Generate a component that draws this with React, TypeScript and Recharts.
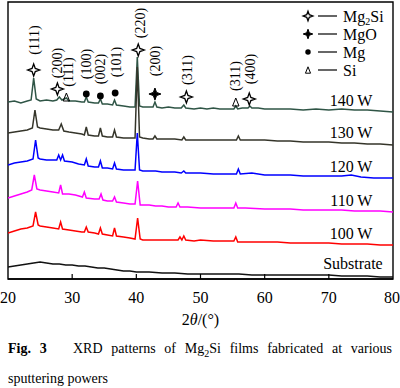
import { LineChart, Line, XAxis, YAxis, ReferenceArea, ReferenceDot } from 'recharts';

type Pair = [number, number];

// 2θ (deg) vs offset intensity (a.u.)
const w140: Pair[] = [
  [20, 177], [21, 178], [22, 176], [23, 178], [23.6, 179], [24.0, 201], [24.4, 180], [25, 178],
  [26, 179], [27, 178], [27.6, 179], [28.0, 182], [28.4, 179], [29.1, 181], [29.5, 178], [30.5, 178],
  [31.5, 177], [31.9, 177], [32.2, 182], [32.5, 177], [33.5, 176], [34.1, 176], [34.4, 180], [34.7, 175],
  [35.5, 175], [36.3, 174], [36.6, 179], [36.9, 174], [38, 173], [39, 172], [39.8, 172], [40.15, 222],
  [40.5, 173], [41, 172], [42, 172], [42.6, 172], [42.9, 177], [43.2, 172], [44, 171], [45, 172],
  [46, 171], [47, 171], [47.4, 174], [47.7, 171], [49, 170], [50, 171], [51, 170], [52, 171],
  [53, 170], [54, 170], [55.2, 170], [55.5, 173], [55.8, 170], [56.5, 171], [57.4, 171], [57.7, 173],
  [58.0, 171], [59, 171], [60, 170], [62, 170], [64, 170], [66, 169], [68, 170], [70, 169],
  [72, 170], [74, 169], [76, 169], [78, 168], [80, 167],
];

const w130: Pair[] = [
  [20, 146], [21, 147], [22, 148], [23, 149], [23.8, 151], [24.2, 169], [24.6, 152], [25, 151],
  [26, 150], [27, 149], [27.9, 149], [28.3, 155], [28.7, 148], [29.5, 147], [30.5, 146], [31.5, 145],
  [31.9, 144], [32.2, 152], [32.5, 144], [33.5, 143], [34.1, 143], [34.4, 151], [34.7, 143], [35.5, 142],
  [36.3, 142], [36.6, 149], [36.9, 142], [38, 141], [39, 141], [39.8, 141], [40.15, 212], [40.5, 142],
  [41, 141], [42, 140], [42.6, 140], [42.9, 143], [43.2, 140], [44, 140], [45, 140], [46, 140],
  [47.1, 139], [47.4, 142], [47.7, 139], [49, 139], [50, 139], [52, 139], [54, 139], [55.6, 139],
  [55.9, 143], [56.2, 139], [58, 139], [60, 139], [62, 138], [64, 138], [66, 137], [68, 137],
  [70, 137], [72, 136], [74, 136], [76, 135], [78, 135], [80, 134],
];

const w120: Pair[] = [
  [20, 114], [21, 116], [22, 117], [23, 118], [23.9, 120], [24.3, 139], [24.7, 121], [25, 120],
  [26, 119], [27, 119], [27.6, 119], [27.9, 124], [28.2, 119], [28.5, 124], [28.8, 118], [30, 117],
  [31, 115], [31.9, 114], [32.2, 120], [32.5, 113], [33.5, 112], [34.1, 112], [34.4, 118], [34.7, 111],
  [35.5, 111], [36.3, 110], [36.6, 116], [36.9, 110], [38, 109], [39, 109], [39.8, 109], [40.15, 146],
  [40.5, 109], [41, 108], [42, 108], [43, 108], [44, 107], [45, 107], [46, 107], [47, 106],
  [47.4, 108], [47.7, 106], [49, 106], [50, 106], [52, 105], [54, 105], [55.6, 105], [55.9, 110],
  [56.2, 105], [58, 106], [60, 104], [62, 104], [64, 104], [66, 103], [68, 103], [70, 103],
  [72, 103], [73.5, 104], [75, 102], [77, 101], [80, 101],
];

const w110: Pair[] = [
  [20, 81], [21, 83], [22, 85], [23, 87], [23.7, 89], [24.1, 104], [24.5, 90], [25, 89],
  [26, 88], [27, 87], [27.9, 86], [28.2, 94], [28.5, 85], [29.5, 85], [30.5, 84], [31.6, 82],
  [31.9, 87], [32.2, 81], [33.5, 80], [34.2, 80], [34.5, 85], [34.8, 79], [35.5, 78], [36.3, 78],
  [36.6, 82], [36.9, 77], [38, 76], [39, 75], [39.8, 75], [40.2, 98], [40.6, 74], [41, 74],
  [42, 74], [43, 73], [44, 73], [45, 72], [46.2, 72], [46.5, 76], [46.8, 72], [48, 72],
  [50, 71], [52, 71], [54, 71], [55.2, 71], [55.5, 76], [55.8, 71], [57, 71], [60, 70],
  [62, 70], [64, 70], [66, 69], [68, 69], [70, 69], [72, 69], [74, 68], [76, 68],
  [78, 68], [80, 67],
];

const w100: Pair[] = [
  [20, 46], [21, 48], [22, 50], [23, 51], [23.9, 53], [24.3, 67], [24.7, 54], [25, 53],
  [26, 52], [27, 51], [27.9, 50], [28.2, 57], [28.5, 50], [29.5, 49], [30.5, 48], [31.5, 47],
  [31.9, 47], [32.2, 52], [32.5, 47], [33.5, 46], [34.1, 45], [34.4, 51], [34.7, 45], [35.5, 44],
  [36.3, 43], [36.6, 51], [36.9, 43], [38, 42], [39, 41], [39.8, 40], [40.2, 61], [40.6, 40],
  [41, 39], [42, 39], [43, 39], [44, 39], [45, 39], [46.5, 39], [46.8, 42], [47.1, 39],
  [47.4, 43], [47.7, 39], [49, 38], [50, 39], [52, 38], [54, 38], [55.2, 38], [55.5, 42],
  [55.8, 37], [57, 37], [60, 37], [62, 37], [64, 36], [66, 36], [68, 36], [70, 36],
  [72, 35], [74, 35], [76, 35], [78, 34], [80, 34],
];

const substrate: Pair[] = [
  [20, 12], [21, 13], [22, 14], [23, 15], [24, 16], [25, 17], [26, 16], [27, 15],
  [28, 15], [29, 14], [30, 14], [31, 13], [32, 13], [33, 12], [34, 11], [35, 11],
  [36, 10], [37, 9], [38, 8], [39, 8], [40, 7], [42, 7], [44, 6], [46, 6],
  [48, 5], [50, 5], [52, 5], [54, 5], [56, 5], [58, 4], [60, 4], [62, 4],
  [64, 4], [66, 4], [68, 4], [70, 4], [72, 3], [74, 3], [76, 3], [78, 2], [80, 2],
];

const xTicks = [20, 30, 40, 50, 60, 70, 80];

const seriesNames = ['140 W', '130 W', '120 W', '110 W', '100 W', 'Substrate'];
const seriesData = [w140, w130, w120, w110, w100, substrate];
const seriesColors = ['#2f5546', '#35352a', '#0000ff', '#ff00ff', '#ff0000', '#111111'];
// where each power label sits (right end), in data units
const seriesLabelX = [76.8, 76.8, 76.8, 76.8, 76.8, 78.4];
const seriesLabelY = [179, 147, 113, 79, 46, 16];

// peak markers: phase symbol position and (hkl) label position
const peakX = [24.0, 27.7, 29.1, 32.2, 34.4, 36.7, 40.3, 42.9, 47.8, 55.5, 57.6];
const peakY = [209, 190, 182, 185, 183, 186, 229, 185, 182, 177, 180];
const peakPhase = ['Mg2Si', 'Mg2Si', 'Si', 'Mg', 'Mg', 'Mg', 'Mg2Si', 'MgO', 'Mg2Si', 'Si', 'Mg2Si'];
const peakHkl = ['(111)', '(200)', '(111)', '(100)', '(002)', '(101)', '(220)', '(200)', '(311)', '(311)', '(400)'];
const hklX = [24.0, 27.7, 29.4, 32.2, 34.4, 36.9, 40.6, 42.9, 47.9, 55.4, 57.7];
const hklY = [239, 216, 207, 215, 210, 217, 256, 218, 209, 203, 210];

const phases = ['Mg2Si', 'MgO', 'Mg', 'Si'];

const FONT = "'Liberation Serif', 'Times New Roman', serif";

function Symbol({ phase, cx, cy, s = 1 }: { phase: string; cx: number; cy: number; s?: number }) {
  if (phase === 'Mg2Si' || phase === 'MgO') {
    const r = 6 * s;
    const k = 1.6 * s;
    const d = `M${cx},${cy - r} L${cx + k},${cy - k} L${cx + r},${cy} L${cx + k},${cy + k} L${cx},${cy + r} L${cx - k},${cy + k} L${cx - r},${cy} L${cx - k},${cy - k} Z`;
    return phase === 'MgO'
      ? <path d={d} fill="#000" stroke="#000" strokeWidth={1} />
      : <path d={d} fill="#fff" stroke="#000" strokeWidth={1.3} />;
  }
  if (phase === 'Mg') return <circle cx={cx} cy={cy} r={3.4 * s} fill="#000" />;
  const h = 4 * s;
  return (
    <path
      d={`M${cx},${cy - h} L${cx + h * 0.8},${cy + h} L${cx - h * 0.8},${cy + h} Z`}
      fill="none"
      stroke="#000"
      strokeWidth={1}
    />
  );
}

function BottomTick(props: any) {
  const { x, y, payload } = props;
  const v = payload.value;
  return (
    <g>
      {v !== 20 && v !== 80 && <line x1={x} y1={y} x2={x} y2={y - 5} stroke="#000" strokeWidth={1.2} />}
      <text x={x} y={y + 24} textAnchor="middle" fontSize={16} fontFamily={FONT} fill="#000">
        {v}
      </text>
    </g>
  );
}

function XTitle(props: any) {
  const vb = props.viewBox || { x: 8, y: 279, width: 385 };
  return (
    <text x={vb.x + vb.width / 2} y={vb.y + 46} textAnchor="middle" fontSize={16} fontFamily={FONT} fill="#000">
      2<tspan fontStyle="italic">θ</tspan>/(°)
    </text>
  );
}

function PhaseName({ name }: { name: string }) {
  if (name === 'Mg2Si') {
    return (
      <>
        Mg<tspan fontSize={10} dy={3}>2</tspan>
        <tspan dy={-3}>Si</tspan>
      </>
    );
  }
  return <>{name}</>;
}

export default function App() {
  return (
    <div style={{ position: 'absolute', left: 0, top: 0, width: 400, height: 388, background: '#fff' }}>
      <LineChart width={400} height={330} margin={{ top: 2, right: 7, left: 8, bottom: 21 }}>
        <XAxis
          dataKey="x"
          type="number"
          domain={[20, 80]}
          ticks={xTicks}
          allowDataOverflow
          tickLine={false}
          tickSize={0}
          tickMargin={0}
          height={30}
          axisLine={{ stroke: '#000', strokeWidth: 1.4 }}
          tick={<BottomTick />}
          label={<XTitle />}
        />
        <YAxis type="number" domain={[0, 277]} hide allowDataOverflow />
        <ReferenceArea x1={20} x2={80} y1={0} y2={277} fill="none" stroke="#000" strokeWidth={1.4} ifOverflow="visible" />

        {seriesData.map((d, i) => (
          <Line
            key={seriesNames[i]}
            data={d.map(([x, y]) => ({ x, y }))}
            dataKey="y"
            type="linear"
            stroke={seriesColors[i]}
            strokeWidth={1.5}
            dot={false}
            isAnimationActive={false}
          />
        ))}

        {seriesNames.map((name, i) => (
          <ReferenceDot
            key={'lab' + name}
            x={seriesLabelX[i]}
            y={seriesLabelY[i]}
            r={0}
            shape={(p: any) => (
              <text x={p.cx} y={p.cy} dy="0.35em" textAnchor="end" fontSize={16} fontFamily={FONT} fill="#000">
                {name}
              </text>
            )}
          />
        ))}

        {peakX.map((px, i) => (
          <ReferenceDot
            key={'pk' + i}
            x={px}
            y={peakY[i]}
            r={0}
            shape={(p: any) => <Symbol phase={peakPhase[i]} cx={p.cx} cy={p.cy} />}
          />
        ))}

        {hklX.map((hx, i) => (
          <ReferenceDot
            key={'hkl' + i}
            x={hx}
            y={hklY[i]}
            r={0}
            shape={(p: any) => (
              <text
                x={p.cx}
                y={p.cy}
                dy="0.35em"
                textAnchor="middle"
                fontSize={14}
                fontFamily={FONT}
                fill="#000"
                transform={`rotate(-90 ${p.cx} ${p.cy})`}
              >
                {peakHkl[i]}
              </text>
            )}
          />
        ))}
      </LineChart>

      {/* phase legend, top right */}
      <svg width={400} height={90} style={{ position: 'absolute', left: 0, top: 0, pointerEvents: 'none' }}>
        {phases.map((ph, i) => {
          const cy = 16 + i * 18;
          return (
            <g key={ph}>
              <Symbol phase={ph} cx={308} cy={cy} s={0.8} />
              <line x1={318} y1={cy} x2={337} y2={cy} stroke="#000" strokeWidth={1.2} />
              <text x={343} y={cy} dy="0.35em" fontSize={16} fontFamily={FONT} fill="#000">
                <PhaseName name={ph} />
              </text>
            </g>
          );
        })}
      </svg>

      <div
        style={{
          position: 'absolute',
          left: 8,
          top: 336,
          width: 384,
          fontFamily: FONT,
          fontSize: 14,
          lineHeight: '25px',
          color: '#000',
        }}
      >
        <div style={{ textAlign: 'justify', textAlignLast: 'justify', whiteSpace: 'nowrap' as const }}>
          <b>Fig. 3</b>&nbsp;&nbsp; XRD patterns of Mg<sub style={{ fontSize: 10 }}>2</sub>Si films fabricated at various
        </div>
        <div>sputtering powers</div>
      </div>
    </div>
  );
}
